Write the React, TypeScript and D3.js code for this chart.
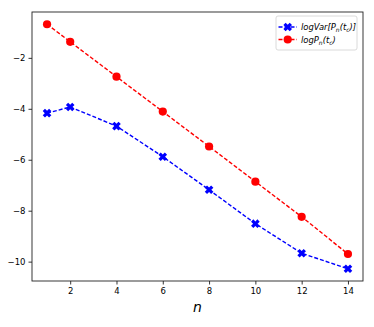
import * as d3 from 'd3';
import { useRef, useEffect } from 'react';

const nValues = [1, 2, 4, 6, 8, 10, 12, 14];
const logVar = [-4.17, -3.93, -4.68, -5.88, -7.18, -8.51, -9.67, -10.28];
const logP = [-0.68, -1.37, -2.74, -4.11, -5.48, -6.86, -8.24, -9.70];
const xTicks = [2, 4, 6, 8, 10, 12, 14];
const yTicks = [-2, -4, -6, -8, -10];

const width = 374;
const height = 327;

function App() {
    const svgRef = useRef<SVGSVGElement>(null);

    useEffect(() => {
        const svg = d3.select(svgRef.current);
        svg.selectAll('*').remove();

        const margin = { top: 12, right: 11, bottom: 46, left: 32 };
        const innerWidth = width - margin.left - margin.right;
        const innerHeight = height - margin.top - margin.bottom;
        const font = 'DejaVu Sans, sans-serif';

        const g = svg.append('g')
            .attr('transform', `translate(${margin.left},${margin.top})`);

        // Scales (matplotlib-like 5% margins)
        const xScale = d3.scaleLinear().domain([0.35, 14.65]).range([0, innerWidth]);
        const yScale = d3.scaleLinear().domain([-10.76, -0.2]).range([innerHeight, 0]);

        // Axes
        const xAxis = g.append('g')
            .attr('transform', `translate(0,${innerHeight})`)
            .call(d3.axisBottom(xScale).tickValues(xTicks).tickSize(3.5).tickPadding(3).tickFormat(d3.format('d')));
        const yAxis = g.append('g')
            .call(d3.axisLeft(yScale).tickValues(yTicks).tickSize(3.5).tickPadding(3)
                .tickFormat(d => `\u2212${Math.abs(+d)}`));
        [xAxis, yAxis].forEach(a => {
            a.select('.domain').remove();
            a.selectAll('text').attr('font-family', font).attr('font-size', 8.5).attr('fill', '#000');
            a.selectAll('line').attr('stroke', '#000').attr('stroke-width', 0.8);
        });

        // Frame
        g.append('rect')
            .attr('width', innerWidth)
            .attr('height', innerHeight)
            .attr('fill', 'none')
            .attr('stroke', '#222')
            .attr('stroke-width', 0.9);

        const series = [
            { values: logVar, color: '#0000ff', marker: 'X' },
            { values: logP, color: '#ff0000', marker: 'o' },
        ];

        const line = d3.line<[number, number]>()
            .x(d => xScale(d[0]))
            .y(d => yScale(d[1]));

        // filled "X" marker: a plus shape rotated by 45 degrees
        const xPath = (L: number, w: number) => {
            const pts = [[-w, -L], [w, -L], [w, -w], [L, -w], [L, w], [w, w], [w, L], [-w, L], [-w, w], [-L, w], [-L, -w], [-w, -w]];
            const c = Math.SQRT1_2;
            return 'M' + pts.map(([x, y]) => `${(x - y) * c},${(x + y) * c}`).join('L') + 'Z';
        };

        const drawMarker = (sel: any, marker: string, color: string) => {
            if (marker === 'o') {
                sel.append('circle').attr('r', 4.1).attr('fill', color);
            } else {
                sel.append('path').attr('d', xPath(4.5, 1.6)).attr('fill', color);
            }
        };

        series.forEach(s => {
            const pts = nValues.map((n, i) => [n, s.values[i]] as [number, number]);
            g.append('path')
                .attr('d', line(pts))
                .attr('fill', 'none')
                .attr('stroke', s.color)
                .attr('stroke-width', 1.4)
                .attr('stroke-dasharray', '4,2');
            pts.forEach(p => {
                const m = g.append('g').attr('transform', `translate(${xScale(p[0])},${yScale(p[1])})`);
                drawMarker(m, s.marker, s.color);
            });
        });

        // Legend
        const lg = svg.append('g').attr('transform', 'translate(276,16)');
        lg.append('rect')
            .attr('width', 81)
            .attr('height', 34)
            .attr('rx', 2)
            .attr('fill', '#fff')
            .attr('stroke', '#d0d0d0')
            .attr('stroke-width', 0.8);

        const labels: { y: number; color: string; marker: string; parts: [string, boolean][] }[] = [
            { y: 11, color: '#0000ff', marker: 'X', parts: [['logVar[P', false], ['n', true], ['(t', false], ['c', true], [')]', false]] },
            { y: 23.5, color: '#ff0000', marker: 'o', parts: [['logP', false], ['n', true], ['(t', false], ['c', true], [')', false]] },
        ];

        labels.forEach(l => {
            lg.append('line')
                .attr('x1', 2.5).attr('x2', 21)
                .attr('y1', l.y).attr('y2', l.y)
                .attr('stroke', l.color)
                .attr('stroke-width', 1.4)
                .attr('stroke-dasharray', '4,2');
            const m = lg.append('g').attr('transform', `translate(11.7,${l.y})`);
            drawMarker(m, l.marker, l.color);
            const t = lg.append('text')
                .attr('x', 25)
                .attr('y', l.y + 3)
                .attr('font-family', font)
                .attr('font-style', 'italic')
                .attr('font-size', 8.4)
                .attr('fill', '#000');
            l.parts.forEach(([txt, sub]) => {
                t.append('tspan')
                    .attr('font-size', sub ? 6 : 8.4)
                    .attr('baseline-shift', sub ? '-1.8' : '0')
                    .text(txt);
            });
        });

        // X label
        svg.append('text')
            .attr('x', margin.left + innerWidth / 2)
            .attr('y', 312)
            .attr('text-anchor', 'middle')
            .attr('font-family', font)
            .attr('font-style', 'italic')
            .attr('font-size', 14)
            .attr('fill', '#000')
            .text('n');
    }, []);

    return <svg ref={svgRef} width={width} height={height} style={{ position: 'absolute', left: 0, top: 0 }}></svg>;
}

export default App;
